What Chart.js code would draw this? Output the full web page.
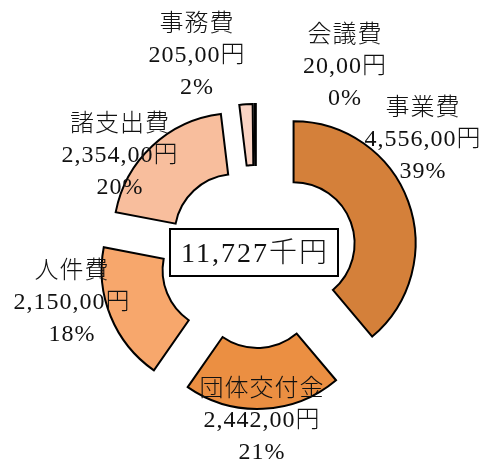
<!DOCTYPE html>
<html><head><meta charset="utf-8">
<script src="https://cdn.jsdelivr.net/npm/chart.js@4"></script>
<style>html,body{margin:0;padding:0;background:#fff}#wrap{width:488px;height:460px}</style>
</head><body><div id="wrap"><canvas id="c" width="488" height="460"></canvas></div>
<script>
// ---- data ----
const categories = ['事業費', '団体交付金', '人件費', '諸支出費', '事務費', '会議費'];
const amounts = [4556, 2442, 2150, 2354, 205, 20];
const amountSuffix = ',00円';
const totalUnit = '千円';

// ---- styles / layout (not data) ----
const colors = ['#D4803A', '#EB8F42', '#F7A76C', '#F8BE9D', '#FAD3C3', '#FCE4D6'];
const explode = [40, 30, 35, 30, 31, 31];
const labelOffsets = [[167, -117], [6, 164], [-184, 46], [-136, -101], [-59, -201], [89, -190]];
const FONT = '"Liberation Serif", "Noto Sans CJK JP", serif';

const explodePlugin = {
  id: 'explodeArcs',
  beforeDatasetDraw(chart, args) {
    const ctx = chart.ctx;
    args.meta.data.forEach((arc, i) => {
      const mid = (arc.startAngle + arc.endAngle) / 2;
      const d = explode[i] || 0;
      ctx.save();
      ctx.translate(Math.cos(mid) * d, Math.sin(mid) * d);
      arc.draw(ctx, chart.chartArea);
      ctx.restore();
    });
    return false;
  }
};

const labelPlugin = {
  id: 'sliceLabels',
  afterDraw(chart) {
    const ctx = chart.ctx;
    const arc0 = chart.getDatasetMeta(0).data[0];
    const cx = arc0.x, cy = arc0.y;
    const total = amounts.reduce((a, b) => a + b, 0);
    ctx.save();
    ctx.fillStyle = '#111';
    ctx.textAlign = 'center';
    ctx.textBaseline = 'middle';
    ctx.font = '300 24px ' + FONT;
    try { ctx.letterSpacing = '1px'; } catch (e) {}
    categories.forEach((name, i) => {
      const [dx, dy] = labelOffsets[i];
      const lines = [
        name,
        amounts[i].toLocaleString('en-US') + amountSuffix,
        Math.round(amounts[i] / total * 100) + '%'
      ];
      lines.forEach((t, k) => ctx.fillText(t, cx + dx, cy + dy + (k - 1) * 31.5));
    });
    // center total box
    const bw = 168, bh = 47, bx = cx - 2 - bw / 2, by = cy - 4.5 - bh / 2;
    ctx.fillStyle = '#fff';
    ctx.fillRect(bx, by, bw, bh);
    ctx.lineWidth = 2;
    ctx.strokeStyle = '#000';
    ctx.strokeRect(bx, by, bw, bh);
    ctx.fillStyle = '#111';
    ctx.font = '300 28px ' + FONT;
    try { ctx.letterSpacing = '2px'; } catch (e) {}
    ctx.fillText(total.toLocaleString('en-US') + totalUnit, cx - 1, cy - 2.5);
    ctx.restore();
  }
};

new Chart(document.getElementById('c'), {
  type: 'doughnut',
  data: {
    labels: categories,
    datasets: [{
      data: amounts,
      backgroundColor: colors,
      borderColor: '#000',
      borderWidth: 2,
      borderJoinStyle: 'miter'
    }]
  },
  options: {
    responsive: false,
    animation: false,
    events: [],
    cutout: '50%',
    radius: 122,
    layout: { padding: { left: 24, right: 0, top: 54, bottom: 0 } },
    plugins: { legend: { display: false }, tooltip: { enabled: false } }
  },
  plugins: [explodePlugin, labelPlugin]
});
</script>
</body></html>
